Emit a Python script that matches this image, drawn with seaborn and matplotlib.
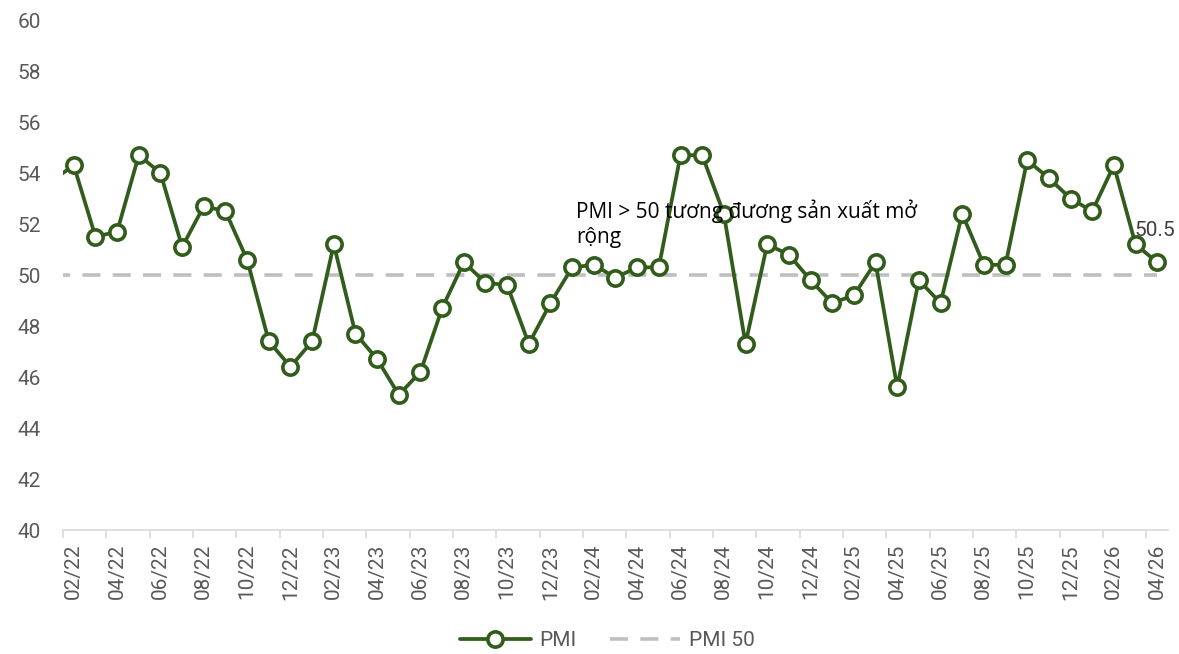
import matplotlib
matplotlib.use("Agg")
import matplotlib.pyplot as plt
import numpy as np
import pandas as pd
import seaborn as sns

# monthly PMI, 01/22 .. 04/26 (01/22 sits just outside the axis, clipped)
months = pd.period_range("2022-01", "2026-04", freq="M")
month_labels = [m.strftime("%m/%y") for m in months]
pmi = [
    53.7, 54.3, 51.5, 51.7, 54.7, 54.0, 51.1, 52.7, 52.5, 50.6, 47.4, 46.4,
    47.4, 51.2, 47.7, 46.7, 45.3, 46.2, 48.7, 50.5, 49.7, 49.6, 47.3, 48.9,
    50.3, 50.4, 49.9, 50.3, 50.3, 54.7, 54.7, 52.4, 47.3, 51.2, 50.8, 49.8,
    48.9, 49.2, 50.5, 45.6, 49.8, 48.9, 52.4, 50.4, 50.4, 54.5, 53.8, 53.0,
    52.5, 54.3, 51.2, 50.5,
]
pmi_50 = [50.0] * len(pmi)
note_text = "PMI > 50 tương đương sản xuất mở\nrộng"

GREEN = "#315c1c"
GREY = "#bfbfbf"
TXT = "#595959"

sns.set_theme(style="white")
plt.rcParams["font.family"] = ["Roboto", "DejaVu Sans"]

df = pd.DataFrame({"idx": np.arange(len(pmi)) - 1, "PMI": pmi, "PMI 50": pmi_50})

fig = plt.figure(figsize=(11.79, 6.54), dpi=100)
ax = fig.add_axes([0.0534, 0.1896, 0.9373, 0.7798])

sns.lineplot(data=df, x="idx", y="PMI 50", ax=ax, color=GREY, lw=2.6,
             label="PMI 50", dashes=False)
ax.lines[-1].set_dashes((5.0, 3.4))
sns.lineplot(data=df, x="idx", y="PMI", ax=ax, color=GREEN, lw=2.7,
             marker="o", markersize=11, markerfacecolor="white",
             markeredgecolor=GREEN, markeredgewidth=2.6, label="PMI")

ax.set_xlim(-0.5, len(pmi) - 1.5)
ax.set_ylim(40, 60)
ax.set_yticks(range(40, 61, 2))
ax.set_xticks(df["idx"][1::2])
ax.set_xticklabels(month_labels[1::2], rotation=90)
ax.set_xticks(np.arange(-0.5, len(pmi) - 1.5, 2), minor=True)
ax.tick_params(axis="x", which="major", length=0, pad=10, labelsize=15,
               labelcolor=TXT)
ax.tick_params(axis="x", which="minor", length=6, width=1.2, color="#d9d9d9",
               bottom=True)
ax.tick_params(axis="y", length=0, pad=16, labelsize=15, labelcolor=TXT)
ax.set_xlabel("")
ax.set_ylabel("")
for s in ["left", "right", "top"]:
    ax.spines[s].set_visible(False)
ax.spines["bottom"].set_color("#d9d9d9")
ax.spines["bottom"].set_linewidth(1.2)

ax.text(23.2, 52.95, note_text, ha="left", va="top", fontsize=15,
        color="black", family=["Open Sans", "DejaVu Sans"], linespacing=1.25)
ax.text(df["idx"].iloc[-1] - 1.05, 51.76, "50.5", ha="left", va="center",
        fontsize=15, color="#404040", clip_on=False)

handles, labels = ax.get_legend_handles_labels()
ax.get_legend().remove()
order = [labels.index("PMI"), labels.index("PMI 50")]
fig.legend([handles[i] for i in order], [labels[i] for i in order],
           loc="center", bbox_to_anchor=(0.515, 0.02), ncol=2, frameon=False,
           fontsize=15, handlelength=3.4, columnspacing=1.6,
           labelcolor=TXT, handletextpad=0.4)

fig.savefig("out.png", dpi=100)
